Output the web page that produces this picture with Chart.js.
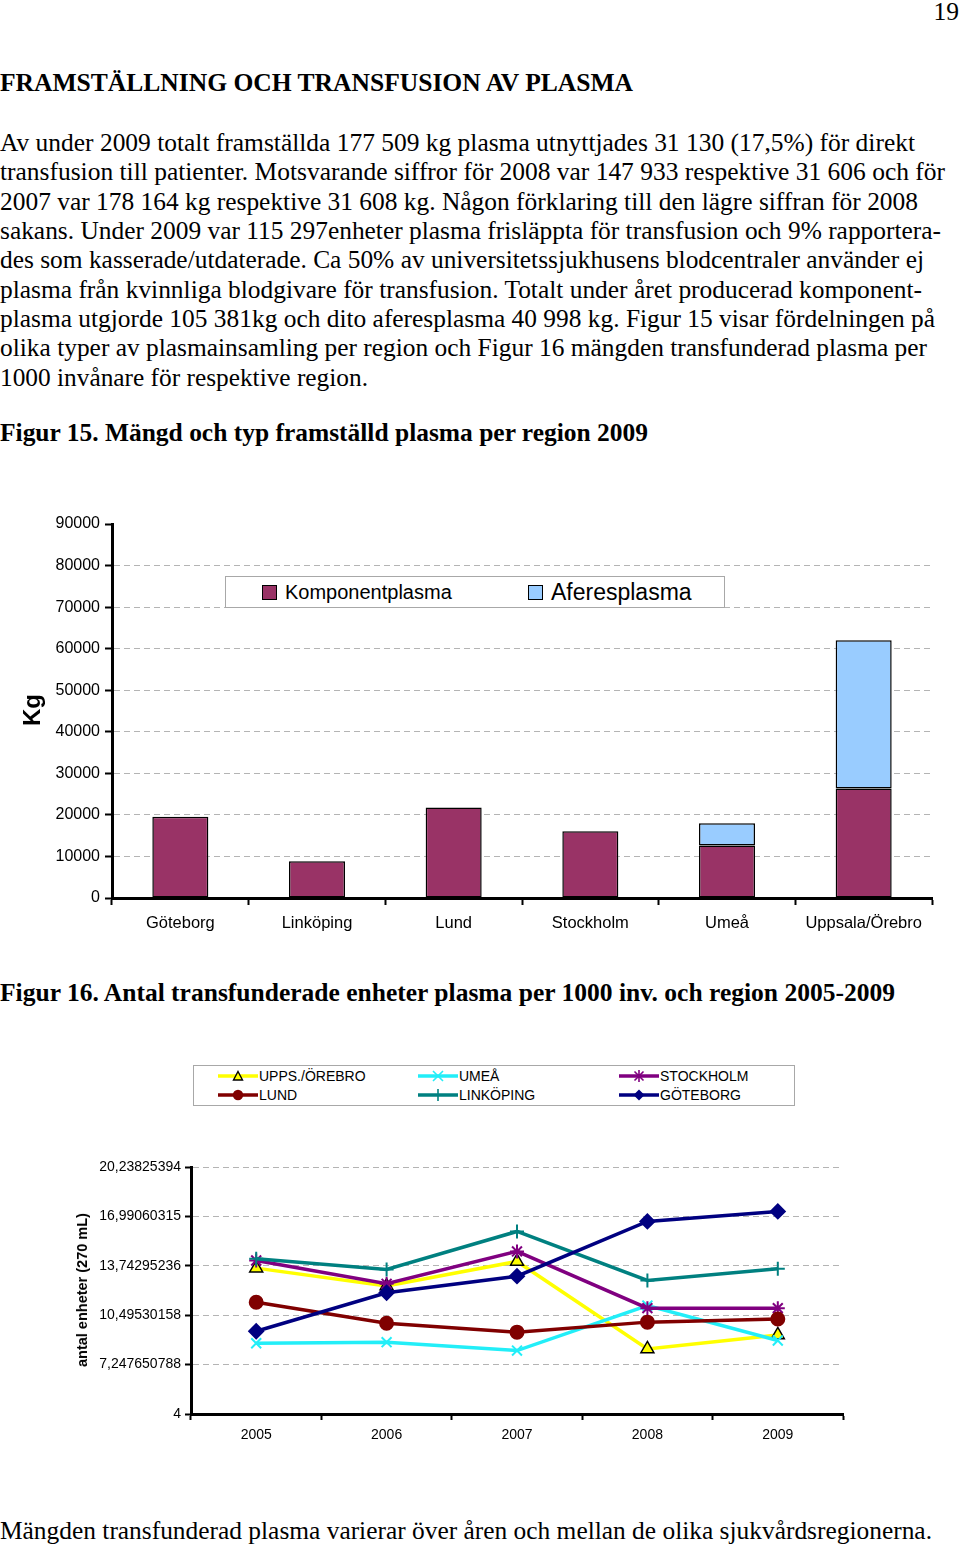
<!DOCTYPE html>
<html lang="sv">
<head>
<meta charset="utf-8">
<title>Framställning och transfusion av plasma</title>
<script src="https://cdn.jsdelivr.net/npm/chart.js@4.4.1/dist/chart.umd.min.js"></script>
<style>
  body { margin: 0; background: #fff; }
  #sida { position: relative; width: 960px; height: 1550px; overflow: hidden; background: #fff; }
  .ln {
    position: absolute; left: 0; white-space: nowrap; color: #000;
    font-family: "Liberation Serif", "Times New Roman", serif;
    font-size: 25.5px; line-height: 25.5px; transform-origin: 0 0;
  }
  .ln.b { font-weight: bold; }
  .sans { font-family: "Liberation Sans", Arial, sans-serif; color: #000; position: absolute; white-space: nowrap; }
  .ruta { position: absolute; border: 1px solid #a8a8a8; background: #fff; box-sizing: border-box; }
  .swatch { position: absolute; width: 15px; height: 15px; border: 1.5px solid #000; box-sizing: border-box; }
  .post { position: absolute; height: 19px; width: 180px; }
  .post svg { position: absolute; left: 0; top: 2px; }
  .post span { position: absolute; left: 41px; top: 0; white-space: nowrap; font: 14px "Liberation Sans", Arial, sans-serif; line-height: 19px; }
  canvas { position: absolute; left: 0; }
</style>
</head>
<body>
<div id="sida">

  <div class="ln" style="left:auto;right:1px;top:-1px;">19</div>

  <div class="ln b" data-b="91.5" data-r="633">FRAMSTÄLLNING OCH TRANSFUSION AV PLASMA</div>

  <div class="ln" data-b="151.5" data-r="915">Av under 2009 totalt framställda 177 509 kg plasma utnyttjades 31 130 (17,5%) för direkt</div>
  <div class="ln" data-b="180.8" data-r="945">transfusion till patienter. Motsvarande siffror för 2008 var 147 933 respektive 31 606 och för</div>
  <div class="ln" data-b="210.1" data-r="918">2007 var 178 164 kg respektive 31 608 kg. Någon förklaring till den lägre siffran för 2008</div>
  <div class="ln" data-b="239.4" data-r="941">sakans. Under 2009 var 115 297enheter plasma frisläppta för transfusion och 9% rapportera-</div>
  <div class="ln" data-b="268.7" data-r="924">des som kasserade/utdaterade. Ca 50% av universitetssjukhusens blodcentraler använder ej</div>
  <div class="ln" data-b="298.0" data-r="922">plasma från kvinnliga blodgivare för transfusion. Totalt under året producerad komponent-</div>
  <div class="ln" data-b="327.3" data-r="935">plasma utgjorde 105 381kg och dito aferesplasma 40 998 kg. Figur 15 visar fördelningen på</div>
  <div class="ln" data-b="356.6" data-r="927">olika typer av plasmainsamling per region och Figur 16 mängden transfunderad plasma per</div>
  <div class="ln" data-b="385.9" data-r="368">1000 invånare för respektive region.</div>

  <div class="ln b" data-b="441" data-r="648">Figur 15. Mängd och typ framställd plasma per region 2009</div>

  <canvas id="figur15" width="960" height="440" style="top:500px"></canvas>
  <div class="sans" style="left:32px;top:710px;font-weight:bold;font-size:24px;line-height:24px;transform:translate(-50%,-50%) rotate(-90deg);">Kg</div>
  <div class="ruta" style="left:225px;top:576px;width:500px;height:32px;"></div>
  <div class="swatch" style="left:262px;top:585px;background:#993366;"></div>
  <div class="sans" style="left:285px;top:581px;font-size:20px;line-height:22px;">Komponentplasma</div>
  <div class="swatch" style="left:528px;top:585px;background:#99ccff;"></div>
  <div class="sans" style="left:551px;top:580px;font-size:23px;line-height:24px;">Aferesplasma</div>

  <div class="ln b" data-b="1001" data-r="895">Figur 16. Antal transfunderade enheter plasma per 1000 inv. och region 2005-2009</div>

  <div class="ruta" style="left:193px;top:1065px;width:602px;height:41px;"></div>
  <div id="legend16"></div>
  <canvas id="figur16" width="960" height="320" style="top:1140px"></canvas>
  <div class="sans" style="left:82px;top:1290px;font-weight:bold;font-size:14.5px;line-height:16px;transform:translate(-50%,-50%) rotate(-90deg);">antal enheter (270 mL)</div>

  <div class="ln" data-b="1539.5" data-r="932">Mängden transfunderad plasma varierar över åren och mellan de olika sjukvårdsregionerna.</div>
</div>

<script>
// Figur 15 - kg plasma per region 2009
const regioner = ['Göteborg', 'Linköping', 'Lund', 'Stockholm', 'Umeå', 'Uppsala/Örebro']
const komponentplasma = [19530, 8820, 21770, 16060, 12610, 26350]
const aferesplasma = [null, null, null, null, 5380, 35680]

// Figur 16 - enheter per 1000 inv.
const ar = ['2005', '2006', '2007', '2008', '2009']
const yVarden = [4, 7.247650788, 10.49530158, 13.74295236, 16.99060315, 20.23825394]
const yEtiketter = ['4', '7,247650788', '10,49530158', '13,74295236', '16,99060315', '20,23825394']

const uppsalaOrebro = [13.59, 12.41, 14.03, 8.28, 9.20]
const umea = [8.65, 8.72, 8.17, 11.13, 8.83]
const stockholm = [14.09, 12.56, 14.69, 10.96, 10.96]
const lund = [11.35, 9.97, 9.38, 10.04, 10.25]
const linkoping = [14.20, 13.50, 16.00, 12.78, 13.55]
const goteborg = [9.44, 11.97, 13.06, 16.66, 17.32]

const SANS = '"Liberation Sans", Arial, sans-serif'
const GRID = '#b4b4b4'

new Chart(document.getElementById('figur15'), {
  type: 'bar',
  data: {
    labels: regioner,
    datasets: [
      { label: 'Komponentplasma', data: komponentplasma, backgroundColor: '#993366', borderColor: '#000', borderWidth: 1.5, borderSkipped: false },
      { label: 'Aferesplasma', data: aferesplasma, backgroundColor: '#99ccff', borderColor: '#000', borderWidth: 1.5, borderSkipped: false }
    ]
  },
  options: {
    responsive: false,
    animation: false,
    layout: { padding: { top: 24, right: 28, left: 0, bottom: 0 } },
    plugins: { legend: { display: false }, tooltip: { enabled: false } },
    datasets: { bar: { categoryPercentage: 1, barPercentage: 0.41 } },
    scales: {
      x: {
        stacked: true,
        grid: { offset: true, drawOnChartArea: false, tickColor: '#000', tickLength: 7, tickWidth: 2 },
        border: { color: '#000', width: 3 },
        ticks: { color: '#000', font: { family: SANS, size: 16.5 }, padding: 9 },
        afterFit: s => { s.height = 42 }
      },
      y: {
        stacked: true,
        min: 0,
        max: 90000,
        ticks: { stepSize: 10000, color: '#000', font: { family: SANS, size: 16 }, padding: 5, callback: v => String(v) },
        grid: {
          color: c => (c.tick && (c.tick.value === 0 || c.tick.value === 90000)) ? 'rgba(0,0,0,0)' : GRID,
          tickColor: '#000', tickLength: 7, tickWidth: 2
        },
        border: { color: '#000', width: 3, dash: [6, 4] },
        afterFit: s => { s.width = 112 }
      }
    }
  }
})

const serier = [
  { namn: 'GÖTEBORG', data: goteborg, farg: '#000080', stil: 'rectRot', radie: 7, fyll: '#000080', kant: '#000080' },
  { namn: 'LINKÖPING', data: linkoping, farg: '#008080', stil: 'cross', radie: 7, fyll: '#008080', kant: '#008080' },
  { namn: 'LUND', data: lund, farg: '#800000', stil: 'circle', radie: 6.5, fyll: '#800000', kant: '#800000' },
  { namn: 'STOCKHOLM', data: stockholm, farg: '#800080', stil: 'star', radie: 7, fyll: '#800080', kant: '#800080' },
  { namn: 'UMEÅ', data: umea, farg: '#22eef8', stil: 'crossRot', radie: 7, fyll: '#22eef8', kant: '#22eef8' },
  { namn: 'UPPS./ÖREBRO', data: uppsalaOrebro, farg: '#ffff00', stil: 'triangle', radie: 7.5, fyll: '#ffff00', kant: '#000' }
]

new Chart(document.getElementById('figur16'), {
  type: 'line',
  data: {
    labels: ar,
    datasets: serier.map(s => ({
      label: s.namn,
      data: s.data,
      borderColor: s.farg,
      borderWidth: 3.5,
      tension: 0,
      fill: false,
      pointStyle: s.stil,
      pointRadius: s.radie,
      pointBackgroundColor: s.fyll,
      pointBorderColor: s.kant,
      pointBorderWidth: s.stil === 'triangle' ? 1.5 : 2
    }))
  },
  options: {
    responsive: false,
    animation: false,
    layout: { padding: { top: 27, right: 117, left: 0, bottom: 0 } },
    plugins: { legend: { display: false }, tooltip: { enabled: false } },
    scales: {
      x: {
        offset: true,
        grid: { offset: true, drawOnChartArea: false, tickColor: '#000', tickLength: 6, tickWidth: 2 },
        border: { color: '#000', width: 3 },
        ticks: { color: '#000', font: { family: SANS, size: 14 }, padding: 7 },
        afterFit: s => { s.height = 46 }
      },
      y: {
        min: yVarden[0],
        max: yVarden[yVarden.length - 1],
        afterBuildTicks: s => { s.ticks = yVarden.map(v => ({ value: v })) },
        ticks: { color: '#000', font: { family: SANS, size: 14 }, padding: 4, callback: (v, i) => yEtiketter[i] },
        grid: {
          color: c => (c.tick && c.tick.value === yVarden[0]) ? 'rgba(0,0,0,0)' : GRID,
          tickColor: '#000', tickLength: 6, tickWidth: 2
        },
        border: { color: '#000', width: 3, dash: [6, 4] },
        afterFit: s => { s.width = 191 }
      }
    }
  }
})

// legend for figur 16, same row-major order as the original
const markorer = {
  triangle: '<polygon points="20,2.5 24.5,11 15.5,11" fill="#ffff00" stroke="#000" stroke-width="1.4"/>',
  crossRot: '<path d="M15,2 L25,12 M15,12 L25,2" stroke="#22eef8" stroke-width="1.6"/>',
  star: '<path d="M15.5,2.5 L24.5,11.5 M15.5,11.5 L24.5,2.5 M20,1 L20,13" stroke="#800080" stroke-width="1.6"/>',
  circle: '<circle cx="20" cy="7" r="5.2" fill="#800000"/>',
  cross: '<path d="M20,1 L20,13" stroke="#008080" stroke-width="1.6"/>',
  rectRot: '<polygon points="20,1.5 25.5,7 20,12.5 14.5,7" fill="#000080"/>'
}
const legendOrdning = ['UPPS./ÖREBRO', 'UMEÅ', 'STOCKHOLM', 'LUND', 'LINKÖPING', 'GÖTEBORG']
const kolumnX = [218, 418, 619]
const radY = [1066.5, 1085.5]
const leg = document.getElementById('legend16')
legendOrdning.forEach((namn, i) => {
  const s = serier.find(x => x.namn === namn)
  const d = document.createElement('div')
  d.className = 'post'
  d.style.left = kolumnX[i % 3] + 'px'
  d.style.top = radY[Math.floor(i / 3)] + 'px'
  d.innerHTML = '<svg width="40" height="14"><line x1="0" y1="7" x2="40" y2="7" stroke="' + s.farg + '" stroke-width="3.5"/>' +
    markorer[s.stil] + '</svg><span>' + namn + '</span>'
  leg.appendChild(d)
})

// place text lines on their baselines and fit widths to the page
document.querySelectorAll('.ln[data-b]').forEach(el => {
  const f = parseFloat(getComputedStyle(el).fontSize)
  el.style.top = (parseFloat(el.dataset.b) - 0.8375 * f) + 'px'
  const w = el.getBoundingClientRect().width
  el.style.transform = 'scaleX(' + (parseFloat(el.dataset.r) / w) + ')'
})
</script>
</body>
</html>
